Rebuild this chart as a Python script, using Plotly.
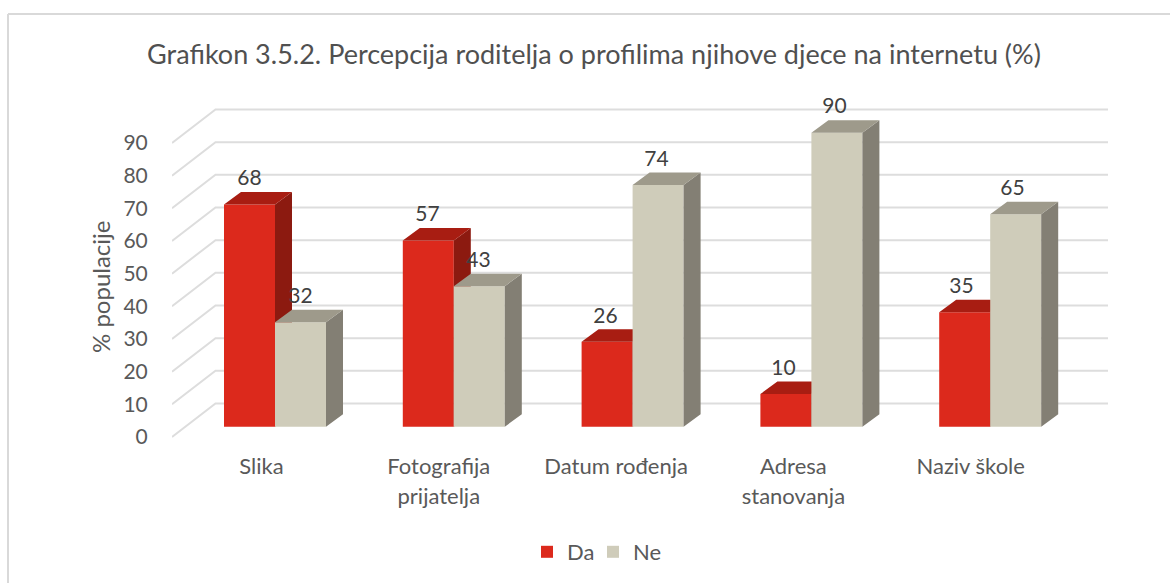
import plotly.graph_objects as go

categories = ["Slika", "Fotografija<br>prijatelja", "Datum rođenja", "Adresa<br>stanovanja", "Naziv škole"]
da_values = [68, 57, 26, 10, 35]
ne_values = [32, 43, 74, 90, 65]
y_ticks = [0, 10, 20, 30, 40, 50, 60, 70, 80, 90]

FONT = "Lato"
TEXT = "#595959"
RED, RED_TOP, RED_SIDE = "#DC291C", "#A81D12", "#8C1A10"
BEIGE, BEIGE_TOP, BEIGE_SIDE = "#CFCCBA", "#9E9A8B", "#837F74"
GRID = "#DDDDDD"

W, H = 1170, 583
PL, PR, PT, PB = 172, 1130, 90, 445   # plot area in page pixels
PX_X = 178.8     # pixels per category
PX_Y = 3.267     # pixels per percentage point
X_ZERO = 275.0   # page x of the first group's centre
Y_ZERO = 437.0   # page y of value 0 on the front plane

x_range = [(PL - X_ZERO) / PX_X, (PR - X_ZERO) / PX_X]
y_range = [(Y_ZERO - PB) / PX_Y, (Y_ZERO - PT) / PX_Y]

bar_w = 51 / PX_X
depth_x, depth_y = 17 / PX_X, 12.5 / PX_Y      # depth of a bar
base_y = 10.3 / PX_Y                           # bars stand this far behind the front plane
front_x = -13.5 / PX_X                         # front plane relative to the bars
front_pitch = 177.3 / PX_X                     # category labels sit on the narrower front plane
wall_x, wall_y = 43.5 / PX_X, 33.5 / PX_Y      # depth of the floor
grid_end = (1108 - X_ZERO) / PX_X


def faces(values, offset):
    sx, sy, tx, ty = [], [], [], []
    for i, v in enumerate(values):
        l = i + offset
        r = l + bar_w
        b = base_y
        t = base_y + v
        sx += [r, r + depth_x, r + depth_x, r, None]
        sy += [b, b + depth_y, t + depth_y, t, None]
        tx += [l, l + depth_x, r + depth_x, r, None]
        ty += [t, t + depth_y, t + depth_y, t, None]
    return sx, sy, tx, ty


def poly(x, y, color, xa, ya):
    return go.Scatter(x=x, y=y, mode="lines", fill="toself", fillcolor=color,
                      line=dict(width=0, color=color), hoverinfo="skip",
                      showlegend=False, xaxis=xa, yaxis=ya)


fig = go.Figure()

# floor and back wall grid
gx, gy = [], []
for v in y_ticks:
    gx += [x_range[0], x_range[0] + wall_x, grid_end, None]
    gy += [v, v + wall_y, v + wall_y, None]
fig.add_trace(go.Scatter(x=gx, y=gy, mode="lines", line=dict(color=GRID, width=2),
                         hoverinfo="skip", showlegend=False, cliponaxis=False))

idx = list(range(len(categories)))

# Da series
sx, sy, tx, ty = faces(da_values, -bar_w)
fig.add_trace(go.Bar(x=[i - bar_w / 2 for i in idx], y=da_values, base=base_y, width=bar_w,
                     name="Da", marker=dict(color=RED, line=dict(width=0)),
                     xaxis="x2", yaxis="y2"))
fig.add_trace(poly(sx, sy, RED_SIDE, "x2", "y2"))
fig.add_trace(poly(tx, ty, RED_TOP, "x2", "y2"))

# Ne series
sx, sy, tx, ty = faces(ne_values, 0)
fig.add_trace(go.Bar(x=[i + bar_w / 2 for i in idx], y=ne_values, base=base_y, width=bar_w,
                     name="Ne", marker=dict(color=BEIGE, line=dict(width=0)),
                     xaxis="x3", yaxis="y3"))
fig.add_trace(poly(sx, sy, BEIGE_SIDE, "x3", "y3"))
fig.add_trace(poly(tx, ty, BEIGE_TOP, "x3", "y3"))

# value labels
label_dy = 24.5 / PX_Y
label_pitch = 178 / PX_X
fig.add_trace(go.Scatter(
    x=[i * label_pitch - bar_w / 2 for i in idx] + [i * label_pitch + bar_w / 2 for i in idx],
    y=[v + base_y + label_dy for v in da_values] + [v + base_y + label_dy for v in ne_values],
    text=[str(v) for v in da_values + ne_values],
    mode="text", textposition="middle center",
    textfont=dict(family=FONT, size=21, color="#404040"),
    hoverinfo="skip", showlegend=False, xaxis="x3", yaxis="y3", cliponaxis=False))

overlay = dict(visible=False, fixedrange=True)
fig.update_layout(
    width=W, height=H, autosize=False,
    margin=dict(l=PL, r=W - PR, t=PT, b=H - PB, pad=0, autoexpand=False),
    paper_bgcolor="white", plot_bgcolor="rgba(0,0,0,0)",
    barmode="overlay",
    font=dict(family=FONT, color=TEXT, size=20),
    title=dict(text="Grafikon 3.5.2. Percepcija roditelja o profilima njihove djece na internetu (%)",
               x=594 / W, xanchor="center", xref="container",
               y=1 - 55 / H, yanchor="middle",
               font=dict(family=FONT, size=27, color="#505050")),
    xaxis=dict(range=x_range, tickmode="array",
               tickvals=[i * front_pitch + front_x for i in idx],
               ticktext=["<br>".join(f'<span style="font-size:22px">{p}</span>' for p in c.split("<br>"))
                         for c in categories],
               tickfont=dict(family=FONT, size=23, color=TEXT),
               ticks="outside", ticklen=0, tickcolor="rgba(0,0,0,0)",
               showgrid=False, zeroline=False, showline=False),
    yaxis=dict(range=y_range, tickmode="array", tickvals=y_ticks,
               ticktext=[str(v) for v in y_ticks],
               tickfont=dict(family=FONT, size=21, color=TEXT),
               ticks="outside", ticklen=19, tickcolor="rgba(0,0,0,0)",
               showgrid=False, zeroline=False, showline=False),
    xaxis2=dict(range=x_range, overlaying="x", **overlay),
    yaxis2=dict(range=y_range, overlaying="y", **overlay),
    xaxis3=dict(range=x_range, overlaying="x", **overlay),
    yaxis3=dict(range=y_range, overlaying="y", **overlay),
    legend=dict(orientation="h", x=(536 - PL) / (PR - PL), xanchor="left",
                y=(PB - 552) / (PB - PT), yanchor="middle",
                font=dict(family=FONT, size=22, color=TEXT),
                indentation=-9, entrywidth=30, entrywidthmode="pixels", itemwidth=30,
                bgcolor="rgba(0,0,0,0)"),
    annotations=[dict(text="% populacije", textangle=-90,
                      x=(100 - PL) / (PR - PL), y=(PB - 287) / (PB - PT),
                      xref="paper", yref="paper", xanchor="center", yanchor="middle",
                      showarrow=False, font=dict(family=FONT, size=24, color=TEXT))],
    shapes=[
        dict(type="line", xref="paper", yref="paper",
             x0=(8 - PL) / (PR - PL), x1=(W - PL) / (PR - PL),
             y0=(PB - 14) / (PB - PT), y1=(PB - 14) / (PB - PT),
             line=dict(color="#D9D9D9", width=2)),
        dict(type="line", xref="paper", yref="paper",
             x0=(8 - PL) / (PR - PL), x1=(8 - PL) / (PR - PL),
             y0=(PB - 14) / (PB - PT), y1=(PB - H) / (PB - PT),
             line=dict(color="#D9D9D9", width=2)),
    ],
)

fig.write_html("out.html", config=dict(displayModeBar=False),
               post_script="document.body.style.margin='0';")
